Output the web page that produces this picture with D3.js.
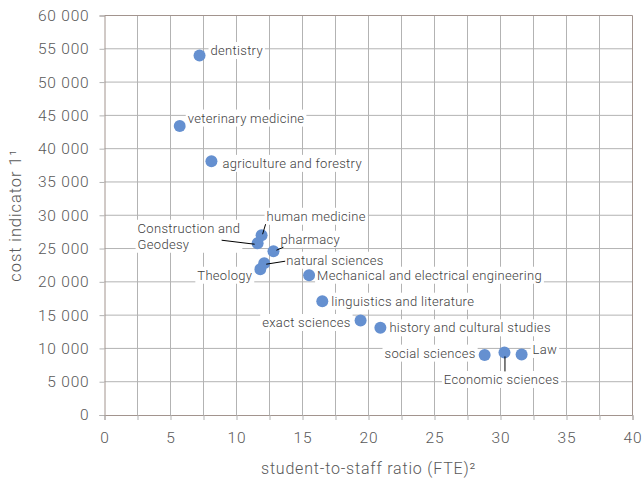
<!DOCTYPE html>
<html>
<head>
<meta charset="utf-8">
<script src="https://cdn.jsdelivr.net/npm/d3@7"></script>
<style>
  body { margin: 0; background: #fff; }
  svg { display: block; font-family: Roboto, "Noto Sans", sans-serif; font-weight: 300; }
</style>
</head>
<body>
<script>
// fields of study
const fields = [
  "dentistry", "veterinary medicine", "agriculture and forestry", "human medicine",
  "Construction and Geodesy", "pharmacy", "natural sciences", "Theology",
  "Mechanical and electrical engineering", "linguistics and literature", "exact sciences",
  "history and cultural studies", "social sciences", "Economic sciences", "Law"
];
// student-to-staff ratio (FTE)
const ratio = [7.2, 5.7, 8.1, 11.9, 11.6, 12.8, 12.1, 11.8, 15.5, 16.5, 19.4, 20.9, 28.8, 30.3, 31.6];
// cost indicator 1
const cost = [54000, 43400, 38100, 27000, 25800, 24600, 22800, 21900, 21000, 17100, 14200, 13100, 9000, 9400, 9100];

const xTicks = d3.range(0, 40.1, 2.5);
const yTicks = d3.range(0, 60001, 5000);

// label placement relative to the point: [dx, dy, anchor, leader]
const labelLayout = {
  "dentistry": [11, -5, "start"],
  "veterinary medicine": [8, -8, "start"],
  "agriculture and forestry": [11, 2, "start"],
  "human medicine": [5, -19, "start", [4, -11, 1, -1]],
  "Construction and Geodesy": [-120, -15, "start", [-36, -3, -3, 1]],
  "pharmacy": [7, -12, "start", [10, -4, 3, -1]],
  "natural sciences": [22, -3, "start", [21, -2, 2, 1]],
  "Theology": [-8, 6, "end"],
  "Mechanical and electrical engineering": [8, 0, "start"],
  "linguistics and literature": [9, 0, "start"],
  "exact sciences": [-10, 2, "end"],
  "history and cultural studies": [9, 0, "start"],
  "social sciences": [-9, -2, "end"],
  "Economic sciences": [-3, 27, "middle", [0.5, 4, 0.5, 19]],
  "Law": [11, -5, "start"]
};

const width = 644, height = 481;
const margin = { top: 15.5, right: 11.5, bottom: 66, left: 104.5 };

const svg = d3.select("body").append("svg")
  .attr("width", width)
  .attr("height", height);

const x = d3.scaleLinear().domain([0, 40]).range([margin.left, width - margin.right]);
const y = d3.scaleLinear().domain([0, 60000]).range([height - margin.bottom, margin.top]);

const fmt = d3.formatLocale({ decimal: ",", thousands: " ", grouping: [3], currency: ["", ""] }).format(",d");

const gridColor = "#b3b3b3";
const axisColor = "#a2948e";

// gridlines
svg.append("g")
  .selectAll("line")
  .data(yTicks.slice(1, -1))
  .join("line")
  .attr("x1", margin.left).attr("x2", width - margin.right)
  .attr("y1", d => y(d)).attr("y2", d => y(d))
  .attr("stroke", gridColor);

svg.append("g")
  .selectAll("line")
  .data(xTicks.slice(1, -1))
  .join("line")
  .attr("y1", margin.top).attr("y2", height - margin.bottom)
  .attr("x1", d => x(d)).attr("x2", d => x(d))
  .attr("stroke", gridColor);

// frame (top, right)
svg.append("path")
  .attr("d", `M${x(0)},${y(60000)}H${x(40)}V${y(0)}`)
  .attr("fill", "none")
  .attr("stroke", axisColor);

// axes
const xAxis = svg.append("g")
  .attr("transform", `translate(0,${y(0)})`)
  .call(d3.axisBottom(x).tickValues(xTicks).tickSize(5).tickPadding(12)
    .tickFormat(d => d % 5 === 0 ? d : ""));

const yAxis = svg.append("g")
  .attr("transform", `translate(${x(0)},0)`)
  .call(d3.axisLeft(y).tickValues(yTicks).tickSize(5).tickPadding(10).tickFormat(fmt));

[xAxis, yAxis].forEach(g => {
  g.select(".domain").attr("stroke", axisColor);
  g.selectAll(".tick line").attr("stroke", gridColor);
  g.selectAll(".tick text")
    .attr("fill", "#595959")
    .style("font-size", "15.5px")
    .style("letter-spacing", "0.8px")
    .style("font-family", "Roboto, sans-serif")
    .style("font-weight", 300);
});

// axis titles
svg.append("text")
  .attr("x", (x(0) + x(40)) / 2)
  .attr("y", 474)
  .attr("text-anchor", "middle")
  .attr("fill", "#595959")
  .style("font-size", "16px")
  .style("letter-spacing", "0.8px")
  .text("student-to-staff ratio (FTE)²");

svg.append("text")
  .attr("transform", `translate(21,${(y(0) + y(60000)) / 2}) rotate(-90)`)
  .attr("text-anchor", "middle")
  .attr("fill", "#595959")
  .style("font-size", "16.5px")
  .style("letter-spacing", "0.9px")
  .text("cost indicator  1¹");

const points = fields.map((name, i) => ({ name, rx: ratio[i], cost: cost[i] }));

// dots
svg.append("g")
  .selectAll("circle")
  .data(points)
  .join("circle")
  .attr("cx", d => x(d.rx))
  .attr("cy", d => y(d.cost))
  .attr("r", 6)
  .attr("fill", "#6590d0");

// labels with white boxes
const labels = svg.append("g")
  .selectAll("g")
  .data(points)
  .join("g")
  .attr("transform", d => `translate(${x(d.rx) + labelLayout[d.name][0]},${y(d.cost) + labelLayout[d.name][1]})`);

labels.each(function (d) {
  const g = d3.select(this);
  const lines = d.name === "Construction and Geodesy" ? ["Construction and", "Geodesy"] : [d.name];
  const rect = g.append("rect").attr("fill", "#fff");
  const t = g.append("text")
    .attr("text-anchor", labelLayout[d.name][2])
    .attr("fill", "#404040")
    .style("font-size", "13px")
    .style("letter-spacing", "0.3px");
  lines.forEach((l, i) => {
    t.append("tspan").attr("x", 0).attr("y", i * 16).attr("dy", "0.35em").text(l);
  });
  const b = t.node().getBBox();
  rect.attr("x", b.x - 2).attr("y", b.y - 1).attr("width", b.width + 4).attr("height", b.height + 2);
});

// leader lines, drawn over the label boxes
svg.append("g")
  .selectAll("line")
  .data(points.filter(d => labelLayout[d.name][3]))
  .join("line")
  .attr("x1", d => x(d.rx) + labelLayout[d.name][3][0])
  .attr("y1", d => y(d.cost) + labelLayout[d.name][3][1])
  .attr("x2", d => x(d.rx) + labelLayout[d.name][3][2])
  .attr("y2", d => y(d.cost) + labelLayout[d.name][3][3])
  .attr("stroke", "#000")
  .attr("stroke-width", 1);
</script>
</body>
</html>
